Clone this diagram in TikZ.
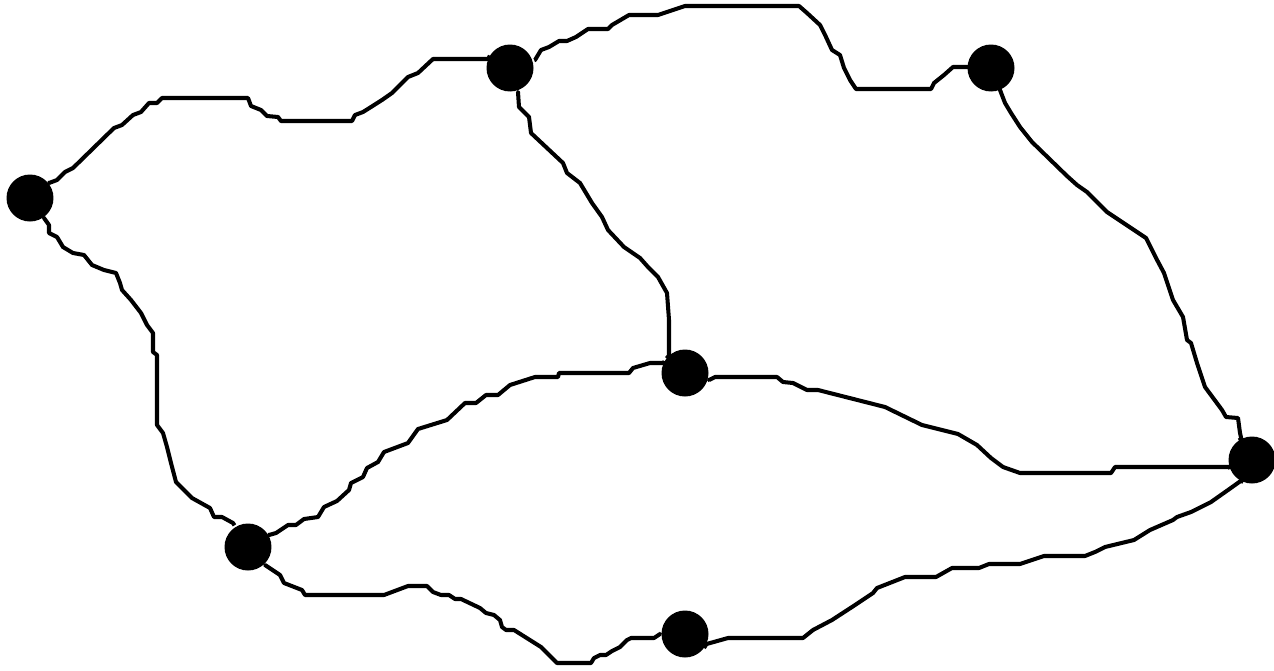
\documentclass[tikz,border=0pt]{standalone}
\usepackage{tikz}
\newcommand{\dotsize}{0.94cm}

\begin{document}
\begin{tikzpicture}[x=0.02cm,y=-0.02cm,line width=2.3pt,line join=round]

	\useasboundingbox (0,0) rectangle (1274,670);
	
	\foreach \n/\x/\y in {A/30/198,B/510/68,C/991/68,D/685/373,E/1252/460,F/248/547,G/685/634}
	{	
		\node[circle,fill=black,inner sep=0pt,minimum size=\dotsize] (\n) at (\x,\y) {};
	}

	\draw (A) -- (49,183) -- (57,180) -- (65,172) -- (73,168) -- (114,128) -- (122,125) -- (133,115) -- (141,112) -- (149,103) -- (157,103) -- (162,98) -- (248,98) -- (251,106) -- (261,110) -- (267,116) -- (278,117) -- (281,121) -- (352,121) -- (355,115) -- (363,112) -- (371,107) -- (382,100) -- (392,93) -- (408,77) -- (418,73) -- (433,59) -- (492,59) -- (B);
	\draw (B) -- (535,60) -- (541,50) -- (549,47) -- (559,41) -- (567,41) -- (576,37) -- (588,29) -- (608,29) -- (612,25) -- (629,15) -- (658,15) -- (685,6) -- (799,6) -- (807,13) -- (820,25) -- (826,37) -- (832,50) -- (840,55) -- (844,68) -- (850,80) -- (856,89) -- (931,89) -- (934,83) -- (944,75) -- (953,67) -- (970,67) -- (C);
	\draw (B) -- (518,92) -- (519,107) -- (529,117) -- (531,133) -- (563,163) -- (567,173) -- (580,183) -- (592,203) -- (602,217) -- (608,230) -- (624,247) -- (640,258) -- (648,267) -- (658,277) -- (667,293) -- (669,320) -- (669,358) -- (D);
	\draw (C) -- (1000,90) -- (1005,103) -- (1011,113) -- (1020,127) -- (1032,142) -- (1067,176) -- (1077,185) -- (1087,192) -- (1107,212) -- (1134,230) -- (1146,238) -- (1156,258) -- (1164,273) -- (1173,300) -- (1183,317) -- (1187,340) -- (1191,343) -- (1197,363) -- (1205,387) -- (1222,410) -- (1226,417) -- (1238,418) -- (1240,433) -- (1242,442) -- (E);
	\draw (A) -- (44,218) -- (49,225) -- (49,233) -- (57,237) -- (63,247) -- (73,253) -- (84,255) -- (92,265) -- (104,270) -- (116,273) -- (120,283) -- (122,290) -- (131,300) -- (141,313) -- (147,325) -- (153,333) -- (153,352) -- (157,355) -- (157,425) -- (163,433) -- (167,447) -- (171,463) -- (176,482) -- (192,498) -- (210,508) -- (214,517) -- (222,517) -- (233,523) -- (F);
	\draw (F) -- (269,535) -- (276,533) -- (288,525) -- (296,525) -- (304,519) -- (318,517) -- (324,507) -- (337,501) -- (349,490) -- (351,483) -- (363,477) -- (367,468) -- (378,462) -- (384,452) -- (408,443) -- (418,429) -- (447,420) -- (465,403) -- (476,403) -- (486,395) -- (498,395) -- (510,385) -- (535,377) -- (558,377) -- (559,373) -- (629,373) -- (633,368) -- (650,363) -- (664,363) -- (D);
	\draw (D) -- (709,380) -- (715,377) -- (777,377) -- (783,382) -- (793,383) -- (807,390) -- (818,390) -- (885,407) -- (922,425) -- (958,434) -- (977,445) -- (991,458) -- (1003,467) -- (1020,473) -- (1111,473) -- (1115,467) -- (1230,467) -- (E);
	\draw (F) -- (265,565) -- (280,575) -- (284,583) -- (302,590) -- (305,595) -- (384,595) -- (408,586) -- (427,586) -- (433,592) -- (441,595) -- (449,595) -- (455,599) -- (461,599) -- (480,608) -- (486,613) -- (494,615) -- (500,620) -- (502,627) -- (506,630) -- (514,630) -- (541,647) -- (557,663) -- (591,663) -- (594,658) -- (600,655) -- (606,655) -- (612,651) -- (620,647) -- (627,640) -- (631,638) -- (654,638) -- (660,634) -- (G);
	\draw (G) -- (703,645) -- (728,638) -- (803,638) -- (813,630) -- (832,620) -- (852,607) -- (873,593) -- (877,588) -- (905,577) -- (936,577) -- (952,568) -- (979,568) -- (989,564) -- (1020,564) -- (1044,556) -- (1085,556) -- (1095,552) -- (1105,547) -- (1134,540) -- (1150,530) -- (1173,520) -- (1177,517) -- (1191,512) -- (1211,502) -- (1228,490) -- (1242,480) -- (E);

\end{tikzpicture}
\end{document}
